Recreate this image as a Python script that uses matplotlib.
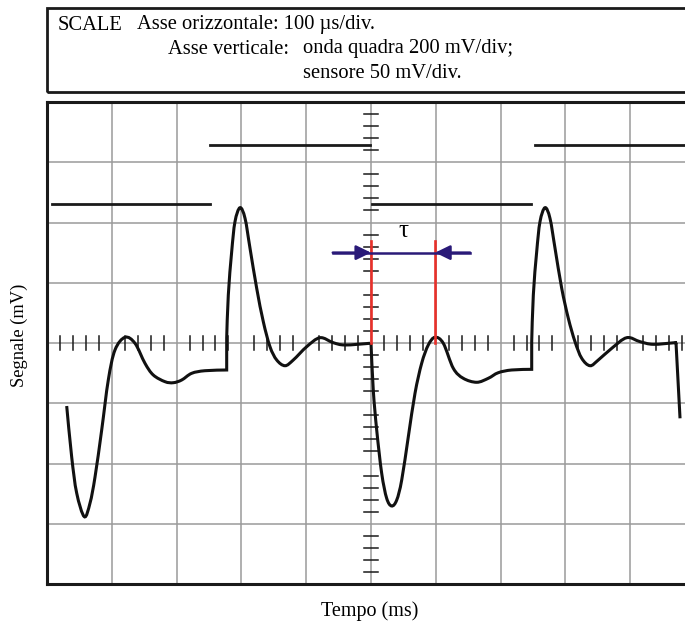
import numpy as np
import matplotlib
matplotlib.use("Agg")
import matplotlib.pyplot as plt
from matplotlib.patches import Rectangle, PathPatch
from matplotlib.path import Path

plt.rcParams["font.family"] = ["Liberation Serif", "DejaVu Serif"]

W, H = 685, 626

# everything in screen divisions (100 us/div, sensor 50 mV/div)
sq_start = [-4.92, -2.48, 0.02, 2.53]
sq_end = [-2.48, -0.02, 2.47, 4.85]
sq_level = [2.31, 3.29, 2.31, 3.29]

# sensor trace, first (partial) period
s1_x = [-4.696, -4.619, -4.542, -4.424, -4.336, -4.259, -4.156, -4.054, -3.951,
        -3.796, -3.642, -3.488, -3.360, -3.179, -3.051, -2.921, -2.767, -2.562,
        -2.227, -2.227, -2.202, -2.150, -2.099, -2.022, -1.944, -1.867, -1.764,
        -1.662, -1.559, -1.455, -1.327, -1.199, -0.992, -0.787, -0.582, -0.401,
        -0.015]
s1_y = [-1.046, -1.892, -2.490, -2.883, -2.656, -2.224, -1.444, -0.614, -0.116,
        0.095, -0.005, -0.337, -0.531, -0.642, -0.659, -0.614, -0.503, -0.460,
        -0.448, 0.083, 0.797, 1.515, 2.013, 2.246, 2.070, 1.572, 0.908,
        0.354, -0.061, -0.282, -0.377, -0.282, -0.061, 0.088, 0.005, -0.033,
        -0.005]
s1_corners = [18, 19]

# sensor trace, second period
s2_x = [0.0, 0.035, 0.088, 0.165, 0.242, 0.319, 0.397, 0.474, 0.576, 0.679,
        0.782, 0.884, 0.988, 1.116, 1.270, 1.424, 1.631, 1.810, 1.964, 2.171,
        2.480, 2.480, 2.505, 2.557, 2.608, 2.685, 2.762, 2.840, 2.943, 3.045,
        3.148, 3.252, 3.380, 3.508, 3.715, 3.946, 4.151, 4.356, 4.691, 4.707,
        4.769]
s2_y = [0.0, -0.780, -1.444, -2.163, -2.578, -2.705, -2.606, -2.274, -1.555, -0.835,
        -0.337, -0.033, 0.095, -0.005, -0.420, -0.586, -0.652, -0.586, -0.493, -0.448,
        -0.437, 0.022, 0.797, 1.515, 2.013, 2.246, 2.070, 1.572, 0.908, 0.410,
        0.022, -0.254, -0.377, -0.282, -0.088, 0.088, 0.022, -0.022, 0.005, 0.0,
        -1.250]
s2_corners = [0, 20, 21, 39]

tau_x = [0.0, 0.99]
tau_top = 1.70
arrow_y = 1.5
arrow_tail = [-0.59, 1.53]


def px(x, y):
    return x / W, 1 - y / H


def smooth_path(xs, ys, corners):
    # catmull-rom style bezier through the traced points, sharp at corners
    pts = np.column_stack([xs, ys])
    n = len(pts)
    verts = [pts[0]]
    codes = [Path.MOVETO]
    for i in range(n - 1):
        p1, p2 = pts[i], pts[i + 1]
        if i in corners and i + 1 in corners:
            verts.append(p2)
            codes.append(Path.LINETO)
            continue
        p0 = pts[i - 1] if (i > 0 and i not in corners) else p1
        p3 = pts[i + 2] if (i + 2 < n and i + 1 not in corners) else p2
        c1 = p1 + (p2 - p0) / 6
        c2 = p2 - (p3 - p1) / 6
        verts += [c1, c2, p2]
        codes += [Path.CURVE4] * 3
    return Path(verts, codes)


fig = plt.figure(figsize=(W / 100, H / 100), dpi=100)

# header box with the scales
fig.add_artist(Rectangle(px(47, 92), 700 / W, 84 / H, transform=fig.transFigure,
                         fill=False, ec="#1a1a1a", lw=2.0))
fs = 14.8
fig.text(*px(58, 25), "SCALE", fontsize=fs, va="center")
fig.text(*px(137, 25), "Asse orizzontale: 100 µs/div.", fontsize=fs, va="center")
fig.text(*px(289, 49), "Asse verticale:", fontsize=fs, va="center", ha="right")
fig.text(*px(303, 49), "onda quadra 200 mV/div;", fontsize=fs, va="center")
fig.text(*px(303, 73), "sensore 50 mV/div.", fontsize=fs, va="center")

l, b = px(47, 584)
ax = fig.add_axes([l, b, (695 - 47) / W, (584 - 102) / H])
ax.set_xlim(-5, 5)
ax.set_ylim(-4, 4)
ax.set_xticks([])
ax.set_yticks([])
for s in ax.spines.values():
    s.set_linewidth(2.2)
    s.set_color("#1a1a1a")

# graticule
for gx in range(-4, 5):
    ax.axvline(gx, color="#9a9a9a", lw=1.1, zorder=1)
for gy in range(-3, 4):
    ax.axhline(gy, color="#9a9a9a", lw=1.1, zorder=1)

# small ticks on the centre lines
for t in np.arange(-5, 5.01, 0.2):
    if abs(t - round(t)) > 0.05:
        ax.plot([t, t], [-0.116, 0.116], color="#1a1a1a", lw=1.1, zorder=2)
for t in np.arange(-4, 4.01, 0.2):
    if abs(t - round(t)) > 0.05:
        ax.plot([-0.108, 0.108], [t, t], color="#1a1a1a", lw=1.1, zorder=2)

# square wave
for x0, x1, lv in zip(sq_start, sq_end, sq_level):
    ax.plot([x0, x1], [lv, lv], color="#1a1a1a", lw=2.0, zorder=3)

# sensor signal
for xs, ys, cs in [(s1_x, s1_y, s1_corners), (s2_x, s2_y, s2_corners)]:
    ax.add_patch(PathPatch(smooth_path(xs, ys, cs), fill=False, ec="#111111",
                           lw=2.2, zorder=4, joinstyle="miter", capstyle="butt"))

# delay tau
for tx in tau_x:
    ax.plot([tx, tx], [0, tau_top], color="#e8302a", lw=1.9, zorder=5)
blue = "#2a1a78"
ax.plot([arrow_tail[0], arrow_tail[1]], [arrow_y, arrow_y], color=blue, lw=1.8, zorder=6)
for tail, head in zip(arrow_tail, tau_x):
    ax.annotate("", xy=(head, arrow_y), xytext=(tail, arrow_y),
                arrowprops=dict(arrowstyle="-|>,head_length=0.45,head_width=0.22",
                                mutation_scale=20, color=blue, lw=1.8,
                                shrinkA=0, shrinkB=0), zorder=6)
ax.text(0.5, 1.68, "τ", fontsize=18, ha="center", va="bottom")

fig.text(*px(19, 335), "Segnale (mV)", fontsize=13.3, rotation=90, ha="center", va="center")
fig.text(*px(370, 611), "Tempo (ms)", fontsize=14.5, ha="center", va="center")

plt.savefig("out.png", dpi=100)
